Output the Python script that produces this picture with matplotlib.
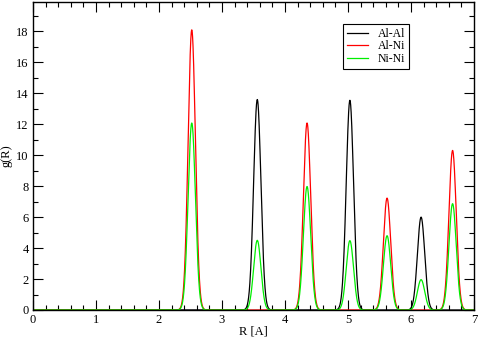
import numpy as np
import matplotlib
matplotlib.use("Agg")
import matplotlib.pyplot as plt
from matplotlib.ticker import MultipleLocator

# Peak data (position in A, height of g(R))
alal_pos = [3.56, 5.03, 6.16]
alal_h = [13.6, 13.55, 6.0]
alni_pos = [2.52, 4.35, 5.62, 6.66]
alni_h = [18.1, 12.08, 7.23, 10.31]
nini_pos = [2.52, 3.56, 4.35, 5.03, 5.62, 6.16, 6.66]
nini_h = [12.08, 4.5, 7.98, 4.48, 4.8, 1.96, 6.87]
peak_width = 0.058

series_names = ["Al-Al", "Al-Ni", "Ni-Ni"]
series_colors = ["black", "red", "#00ee00"]

R = np.linspace(0, 7, 2801)

def curve(pos, h):
    y = np.zeros_like(R)
    for p, a in zip(pos, h):
        y += a * np.exp(-0.5 * ((R - p) / peak_width) ** 2)
    return y

plt.rcParams['font.family'] = ['Liberation Serif', 'DejaVu Serif']
fig = plt.figure(figsize=(4.8, 3.4), dpi=100)
ax = fig.add_axes([33/480, 1-310/340, 441/480, 308/340])

for (pos, h), name, col in zip([(alal_pos, alal_h), (alni_pos, alni_h), (nini_pos, nini_h)],
                               series_names, series_colors):
    ax.plot(R, curve(pos, h), color=col, lw=0.9, label=name)

ax.set_xlim(0, 7)
ax.set_ylim(0, 19.9)
ax.xaxis.set_major_locator(MultipleLocator(1))
ax.xaxis.set_minor_locator(MultipleLocator(0.2))
ax.yaxis.set_major_locator(MultipleLocator(2))
ax.yaxis.set_minor_locator(MultipleLocator(1))
ax.tick_params(which='both', direction='in', top=True, right=True, labelsize=9, width=0.8)
ax.tick_params(which='major', length=7, pad=3)
ax.tick_params(which='minor', length=3.5)
for s in ax.spines.values():
    s.set_linewidth(1.0)
ax.set_xlabel("R [A]", fontsize=9)
ax.xaxis.set_label_coords(0.5, -0.05)
ax.set_ylabel("g(R)", fontsize=9)
ax.yaxis.set_label_coords(-0.046, 0.5)

leg = ax.legend(loc='upper left', bbox_to_anchor=(0.703, 0.93), fontsize=8.5,
                frameon=True, fancybox=False, edgecolor='black', framealpha=1,
                handlelength=1.8, handletextpad=0.8, borderpad=0.35, labelspacing=0.05,
                borderaxespad=0)
leg.get_frame().set_linewidth(0.8)

fig.savefig("out.png", dpi=100)
